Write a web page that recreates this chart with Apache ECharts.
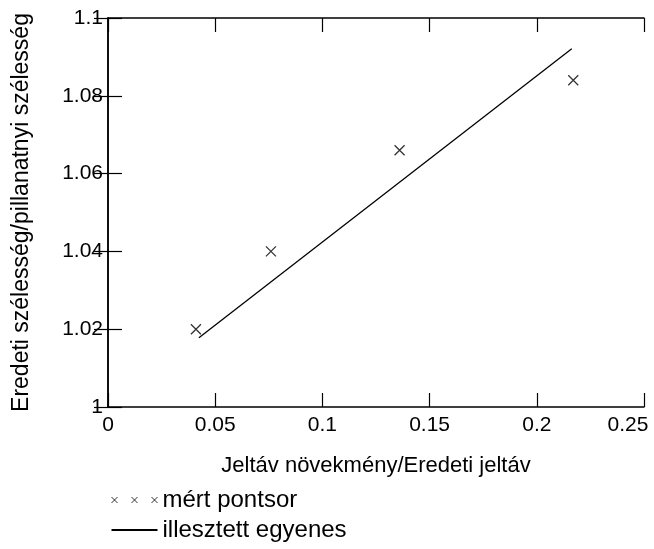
<!DOCTYPE html>
<html>
<head>
<meta charset="utf-8">
<script src="https://cdn.jsdelivr.net/npm/echarts@6/dist/echarts.min.js"></script>
<style>
  html, body { margin: 0; padding: 0; background: #fff; }
  #chart { width: 654px; height: 549px; }
</style>
</head>
<body>
<div id="chart"></div>
<script>
// mért pontsor
let pointX = [0.041, 0.076, 0.136, 0.217];
let pointY = [1.020, 1.040, 1.066, 1.084];
// illesztett egyenes (end points)
let lineX = [0.0424, 0.2163];
let lineY = [1.0178, 1.0921];

let font = 'Liberation Sans, Arial, sans-serif';
let cross = 'path://M0,0L10,10M10,0L0,10';
let crosses3 = 'path://M0,0L6,6M6,0L0,6M20,0L26,6M26,0L20,6M40,0L46,6M46,0L40,6';

let chart = echarts.init(document.getElementById('chart'));

let axisCommon = {
  axisLine: { lineStyle: { color: '#000', width: 1.5 } },
  axisTick: { inside: true, length: 14, lineStyle: { color: '#000', width: 1.2 } },
  splitLine: { show: false }
};

chart.setOption({
  backgroundColor: '#fff',
  animation: false,
  grid: { left: 108, top: 18, right: 10, bottom: 142, containLabel: false, outerBoundsMode: 'none' },
  xAxis: [
    Object.assign({
      type: 'value', min: 0, max: 0.25, interval: 0.05, position: 'bottom',
      name: 'Jeltáv növekmény/Eredeti jeltáv',
      nameLocation: 'middle', nameGap: 48,
      nameTextStyle: { color: '#000', fontSize: 22, fontFamily: font },
      axisLabel: {
        color: '#000', fontSize: 21, fontFamily: font, margin: 8,
        // last label kept inside the window
        formatter: function (v) {
          return v > 0.24 ? '{r|' + v + '}' : '' + v;
        },
        rich: { r: { fontSize: 21, fontFamily: font, color: '#000', padding: [0, 32, 0, 0] } }
      }
    }, axisCommon),
    Object.assign({
      type: 'value', min: 0, max: 0.25, interval: 0.05, position: 'top',
      axisLabel: { show: false }
    }, axisCommon)
  ],
  yAxis: [
    Object.assign({
      type: 'value', min: 1, max: 1.1, interval: 0.02, position: 'left',
      name: 'Eredeti szélesség/pillanatnyi szélesség',
      nameLocation: 'middle', nameGap: 75,
      nameTextStyle: { color: '#000', fontSize: 23, fontFamily: font },
      axisLabel: { color: '#000', fontSize: 21, fontFamily: font, margin: 5 }
    }, axisCommon),
    Object.assign({
      type: 'value', min: 1, max: 1.1, interval: 0.02, position: 'right',
      axisLabel: { show: false }
    }, axisCommon)
  ],
  legend: {
    orient: 'vertical',
    left: 104,
    top: 483,
    itemWidth: 46,
    itemHeight: 7,
    itemGap: 6,
    textStyle: { color: '#000', fontSize: 24, fontFamily: font },
    data: [
      { name: 'mért pontsor', icon: crosses3, itemStyle: { borderWidth: 1 } },
      { name: 'illesztett egyenes', itemStyle: { opacity: 0 } }
    ]
  },
  series: [
    {
      name: 'mért pontsor',
      type: 'scatter',
      symbol: cross,
      symbolSize: 10,
      itemStyle: { color: 'none', borderColor: '#000', borderWidth: 1.3 },
      data: pointX.map(function (x, i) { return [x, pointY[i]]; })
    },
    {
      name: 'illesztett egyenes',
      type: 'line',
      symbol: 'none',
      itemStyle: { color: '#000' },
      lineStyle: { color: '#000', width: 1.3 },
      data: lineX.map(function (x, i) { return [x, lineY[i]]; })
    }
  ]
});
</script>
</body>
</html>
